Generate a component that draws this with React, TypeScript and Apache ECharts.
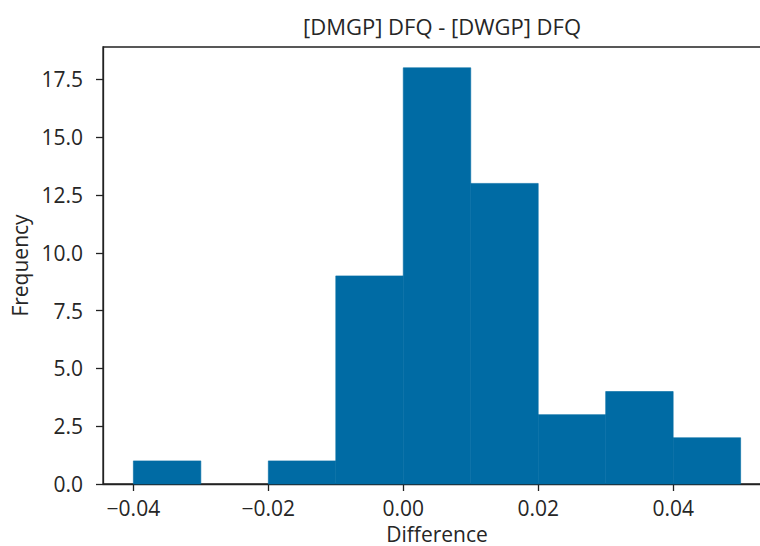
import React, { useEffect, useRef } from "react";
import * as echarts from "echarts";

const binEdges = [-0.04, -0.03, -0.02, -0.01, 0.0, 0.01, 0.02, 0.03, 0.04, 0.05];
const counts = [1, 0, 1, 9, 18, 13, 3, 4, 2];
const xTicks = [-0.04, -0.02, 0.0, 0.02, 0.04];
const yTicks = [0, 2.5, 5, 7.5, 10, 12.5, 15, 17.5];

const FONT = "Open Sans";
const TXT = "#262626";
const BAR = "#006BA4";

export default function App() {
  const ref = useRef<HTMLDivElement>(null);
  useEffect(() => {
    if (!ref.current) return;
    const chart = echarts.init(ref.current, undefined, { renderer: "svg" });
    const data = counts.map((c, i) => [binEdges[i], binEdges[i + 1], c]);
    chart.setOption({
      animation: false,
      backgroundColor: "#ffffff",
      title: {
        text: "[DMGP] DFQ - [DWGP] DFQ",
        left: 437,
        textAlign: "center",
        top: 10,
        textStyle: { fontFamily: FONT, fontSize: 22, fontWeight: "normal", color: TXT },
      },
      grid: {
        left: 103,
        top: 47,
        right: 9,
        bottom: 62,
        show: true,
        outerBoundsMode: "none",
        containLabel: false,
        borderColor: "#222",
        borderWidth: 1.3,
        backgroundColor: "transparent",
      },
      xAxis: {
        type: "value",
        min: -0.0445,
        max: 0.0545,
        splitLine: { show: false },
        axisLine: { show: true, onZero: false, lineStyle: { color: "#222", width: 1.3 } },
        axisTick: { show: true, length: 7, lineStyle: { color: "#222", width: 1.3 }, customValues: xTicks },
        axisLabel: {
          customValues: xTicks,
          margin: 13,
          fontFamily: FONT,
          fontSize: 21,
          color: TXT,
          formatter: (v: number) => (v < 0 ? "\u2212" : "") + Math.abs(v).toFixed(2),
        },
        name: "Difference",
        nameLocation: "middle",
        nameGap: 39,
        nameTextStyle: { fontFamily: FONT, fontSize: 21, lineHeight: 21, color: TXT },
      },
      yAxis: {
        type: "value",
        min: 0,
        max: 18.9,
        splitLine: { show: false },
        axisLine: { show: true, onZero: false, lineStyle: { color: "#222", width: 1.3 } },
        axisTick: { show: true, length: 7, lineStyle: { color: "#222", width: 1.3 }, customValues: yTicks },
        axisLabel: {
          customValues: yTicks,
          margin: 20,
          fontFamily: FONT,
          fontSize: 21,
          color: TXT,
          formatter: (v: number) => v.toFixed(1),
        },
        name: "Frequency",
        nameLocation: "middle",
        nameGap: 66,
        nameTextStyle: { fontFamily: FONT, fontSize: 21, color: TXT },
      },
      series: [
        {
          type: "custom",
          data,
          encode: { x: [0, 1], y: 2 },
          renderItem: (params: any, api: any) => {
            const p0 = api.coord([api.value(0), 0]);
            const p1 = api.coord([api.value(1), api.value(2)]);
            const h = p0[1] - p1[1];
            return {
              type: "rect",
              shape: { x: p0[0], y: p1[1], width: p1[0] - p0[0], height: h },
              style: h > 0 ? { fill: BAR, stroke: BAR, lineWidth: 0.6 } : { fill: "none" },
            };
          },
        },
      ],
    });
    return () => chart.dispose();
  }, []);
  return (
    <div style={{ position: "fixed", left: 0, top: 0, width: 760, height: 546, overflow: "hidden", background: "#fff" }}>
      <div ref={ref} style={{ width: 780, height: 546 }} />
    </div>
  );
}
